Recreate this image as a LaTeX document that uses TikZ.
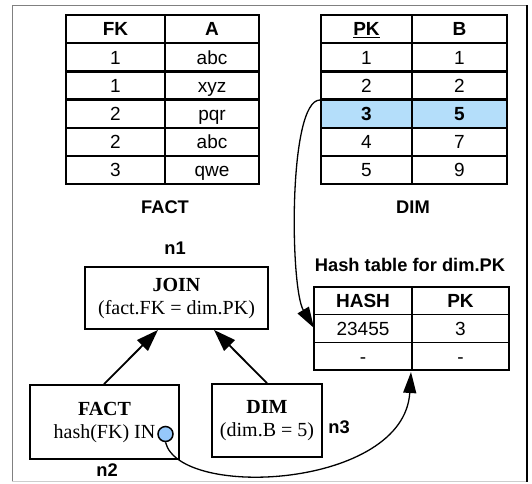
\documentclass[tikz,border=0pt]{standalone}
\usepackage{fontspec}
\setmainfont{Liberation Serif}
\setsansfont{Liberation Sans}
\usetikzlibrary{arrows.meta}
\definecolor{rowhl}{RGB}{180,222,250}
\definecolor{dotblue}{RGB}{150,200,250}
\definecolor{framegray}{RGB}{128,128,128}
\definecolor{framelight}{RGB}{205,205,205}
\tikzset{
  tcell/.style={draw, line width=2.4pt, rectangle, inner sep=0pt, minimum height=28.2pt,
    text height=13.6pt, text depth=0pt,
    font=\sffamily\fontsize{19}{22}\selectfont},
  hcell/.style={draw, line width=1.2pt, rectangle, inner sep=0pt, minimum height=27.7pt,
    text height=13.6pt, text depth=0pt,
    font=\sffamily\fontsize{19}{22}\selectfont},
  caption/.style={font=\sffamily\bfseries\fontsize{18.3}{21}\selectfont, inner sep=0pt},
  opbox/.style={draw, line width=1.8pt, rectangle, inner sep=0pt, align=center,
    font=\fontsize{20}{23}\selectfont},
  flow/.style={line width=1.8pt, -{Triangle[length=22pt,width=15pt]}},
  probe/.style={line width=1.3pt, -{Triangle[length=21pt,width=13pt]}},
}
\begin{document}
\begin{tikzpicture}[x=1pt,y=-1pt]
\useasboundingbox (0,0) rectangle (532,483);
% outer frame
\draw[framegray, line width=1pt] (12,481.5) -- (12,5) -- (527,5);
\draw[framelight, line width=1.5pt] (12,481.5) -- (527,481.5);
\draw[black, line width=1.6pt] (527,5) -- (527,482);

% FACT table
\node[tcell, minimum width=99pt] (fh1) at (115.5,29.1) {\bfseries FK};
\node[tcell, minimum width=94pt] (fh2) at (212,29.1) {\bfseries A};
\node[tcell, minimum width=99pt] (f11) at (115.5,57.3) {1};
\node[tcell, minimum width=94pt] (f12) at (212,57.3) {abc};
\node[tcell, minimum width=99pt] (f21) at (115.5,85.5) {1};
\node[tcell, minimum width=94pt] (f22) at (212,85.5) {xyz};
\node[tcell, minimum width=99pt] (f31) at (115.5,113.7) {2};
\node[tcell, minimum width=94pt] (f32) at (212,113.7) {pqr};
\node[tcell, minimum width=99pt] (f41) at (115.5,141.9) {2};
\node[tcell, minimum width=94pt] (f42) at (212,141.9) {abc};
\node[tcell, minimum width=99pt] (f51) at (115.5,170.1) {3};
\node[tcell, minimum width=94pt] (f52) at (212,170.1) {qwe};
\node[caption] (factcap) at (165,207) {FACT};

% DIM table
\node[tcell, minimum width=91pt] (dh1) at (366.5,29.1) {\bfseries\underline{PK}};
\node[tcell, minimum width=95pt] (dh2) at (459.5,29.1) {\bfseries B};
\node[tcell, minimum width=91pt] (d11) at (366.5,57.3) {1};
\node[tcell, minimum width=95pt] (d12) at (459.5,57.3) {1};
\node[tcell, minimum width=91pt] (d21) at (366.5,85.5) {2};
\node[tcell, minimum width=95pt] (d22) at (459.5,85.5) {2};
\node[tcell, minimum width=91pt, fill=rowhl] (d31) at (366.5,113.7) {\bfseries 3};
\node[tcell, minimum width=95pt, fill=rowhl] (d32) at (459.5,113.7) {\bfseries 5};
\node[tcell, minimum width=91pt] (d41) at (366.5,141.9) {4};
\node[tcell, minimum width=95pt] (d42) at (459.5,141.9) {7};
\node[tcell, minimum width=91pt] (d51) at (366.5,170.1) {5};
\node[tcell, minimum width=95pt] (d52) at (459.5,170.1) {9};
\node[caption] (dimcap) at (413,207) {DIM};

% hash table built on dim.PK
\node[caption] (hashcap) at (410,265) {Hash table for dim.PK};
\node[hcell, minimum width=98pt] (hh1) at (363,300.8) {\bfseries HASH};
\node[hcell, minimum width=97pt] (hh2) at (460.5,300.8) {\bfseries PK};
\node[hcell, minimum width=98pt] (h11) at (363,328.5) {23455};
\node[hcell, minimum width=97pt] (h12) at (460.5,328.5) {3};
\node[hcell, minimum width=98pt] (h21) at (363,356.2) {-};
\node[hcell, minimum width=97pt] (h22) at (460.5,356.2) {-};

% plan operators
\node[opbox, minimum width=183pt, minimum height=62pt] (join) at (176.5,298)
  {\textbf{JOIN}\\(fact.FK = dim.PK)};
\node[opbox, minimum width=149pt, minimum height=74pt] (fact) at (104.5,422)
  {\textbf{FACT}\\hash(FK) IN};
\node[opbox, minimum width=110pt, minimum height=73pt] (dim) at (267,420.5)
  {\textbf{DIM}\\(dim.B = 5)};
\node[draw, line width=1.5pt, circle, fill=dotblue, minimum size=15pt, inner sep=0pt] (inlist) at (165.5,434) {};

\node[caption] (n1) at (175,248) {n1};
\node[caption] (n2) at (107,470) {n2};
\node[caption] (n3) at (339,427) {n3};

% data flow into the join
\draw[flow] (fact.north -| 104,0) -- (join.south -| 158,0);
\draw[flow] (dim.north -| 267,0) -- (join.south -| 214,0);

% build and probe of the hash table
\coordinate (buildfrom) at (320,100);
\coordinate (buildto) at (314,328);
\draw[probe] (buildfrom) .. controls (288,100) and (290,288) .. (buildto);
\coordinate (probeto) at (411,372);
\draw[probe] (inlist.south) .. controls (180,500) and (404,488) .. (probeto);
\end{tikzpicture}
\end{document}
